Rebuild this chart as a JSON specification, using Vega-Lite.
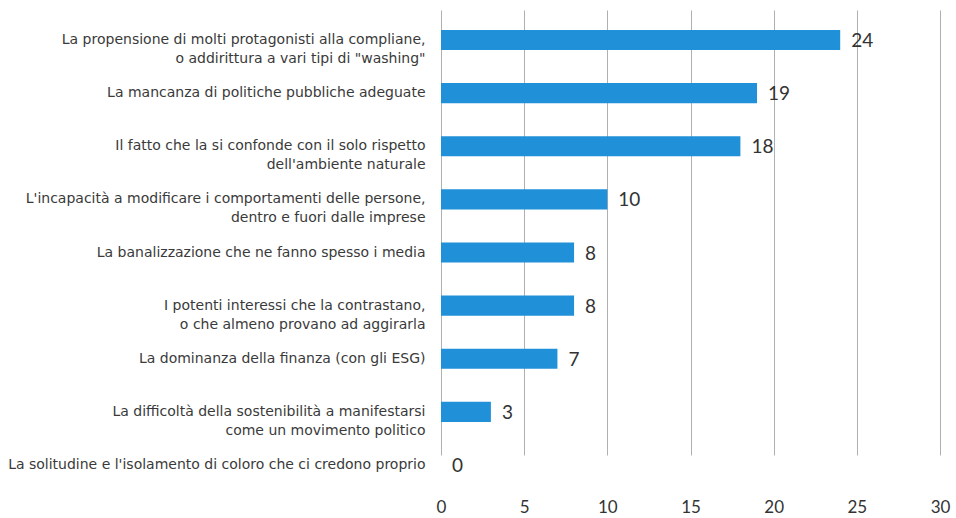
{
  "$schema": "https://vega.github.io/schema/vega-lite/v6.json",
  "width": 499,
  "height": 485,
  "autosize": "none",
  "padding": {"left": 441, "top": 0, "right": 16, "bottom": 33},
  "background": "white",
  "config": {"view": {"stroke": null}},
  "data": {
    "values": [
      {"label": "La propensione di molti protagonisti alla compliane,|o addirittura a vari tipi di \"washing\"", "value": 24},
      {"label": "La mancanza di politiche pubbliche adeguate", "value": 19},
      {"label": "Il fatto che la si confonde con il solo rispetto|dell'ambiente naturale", "value": 18},
      {"label": "L'incapacità a modificare i comportamenti delle persone,|dentro e fuori dalle imprese", "value": 10},
      {"label": "La banalizzazione che ne fanno spesso i media", "value": 8},
      {"label": "I potenti interessi che la contrastano,|o che almeno provano ad aggirarla", "value": 8},
      {"label": "La dominanza della finanza (con gli ESG)", "value": 7},
      {"label": "La difficoltà della sostenibilità a manifestarsi|come un movimento politico", "value": 3},
      {"label": "La solitudine e l'isolamento di coloro che ci credono proprio", "value": 0}
    ]
  },
  "encoding": {
    "y": {
      "field": "label",
      "type": "nominal",
      "sort": null,
      "scale": {"range": [30, 475], "paddingInner": 0.6235, "paddingOuter": 0},
      "axis": {
        "title": null,
        "domain": false,
        "ticks": false,
        "grid": false,
        "labelPadding": 16,
        "labelLimit": 440,
        "labelFont": "DejaVu Sans",
        "labelFontSize": 14,
        "labelLineHeight": 19,
        "labelColor": "#3a3a3a",
        "labelExpr": "split(datum.label, '|')"
      }
    },
    "x": {
      "field": "value",
      "type": "quantitative",
      "scale": {"domain": [0, 30], "nice": false},
      "axis": {
        "title": null,
        "values": [0, 5, 10, 15, 20, 25, 30],
        "domain": false,
        "ticks": false,
        "grid": true,
        "gridColor": "#b0b0b0",
        "gridWidth": 1,
        "labelPadding": 14,
        "labelFont": "Lato",
        "labelFontSize": 17,
        "labelColor": "#333333",
        "labelFlush": false
      }
    }
  },
  "layer": [
    {"mark": {"type": "bar", "color": "#2090d8"}},
    {
      "mark": {"type": "text", "align": "left", "baseline": "middle", "dx": 11, "dy": 1, "font": "Lato", "fontSize": 19, "color": "#333333"},
      "encoding": {"text": {"field": "value", "type": "quantitative"}}
    }
  ]
}
